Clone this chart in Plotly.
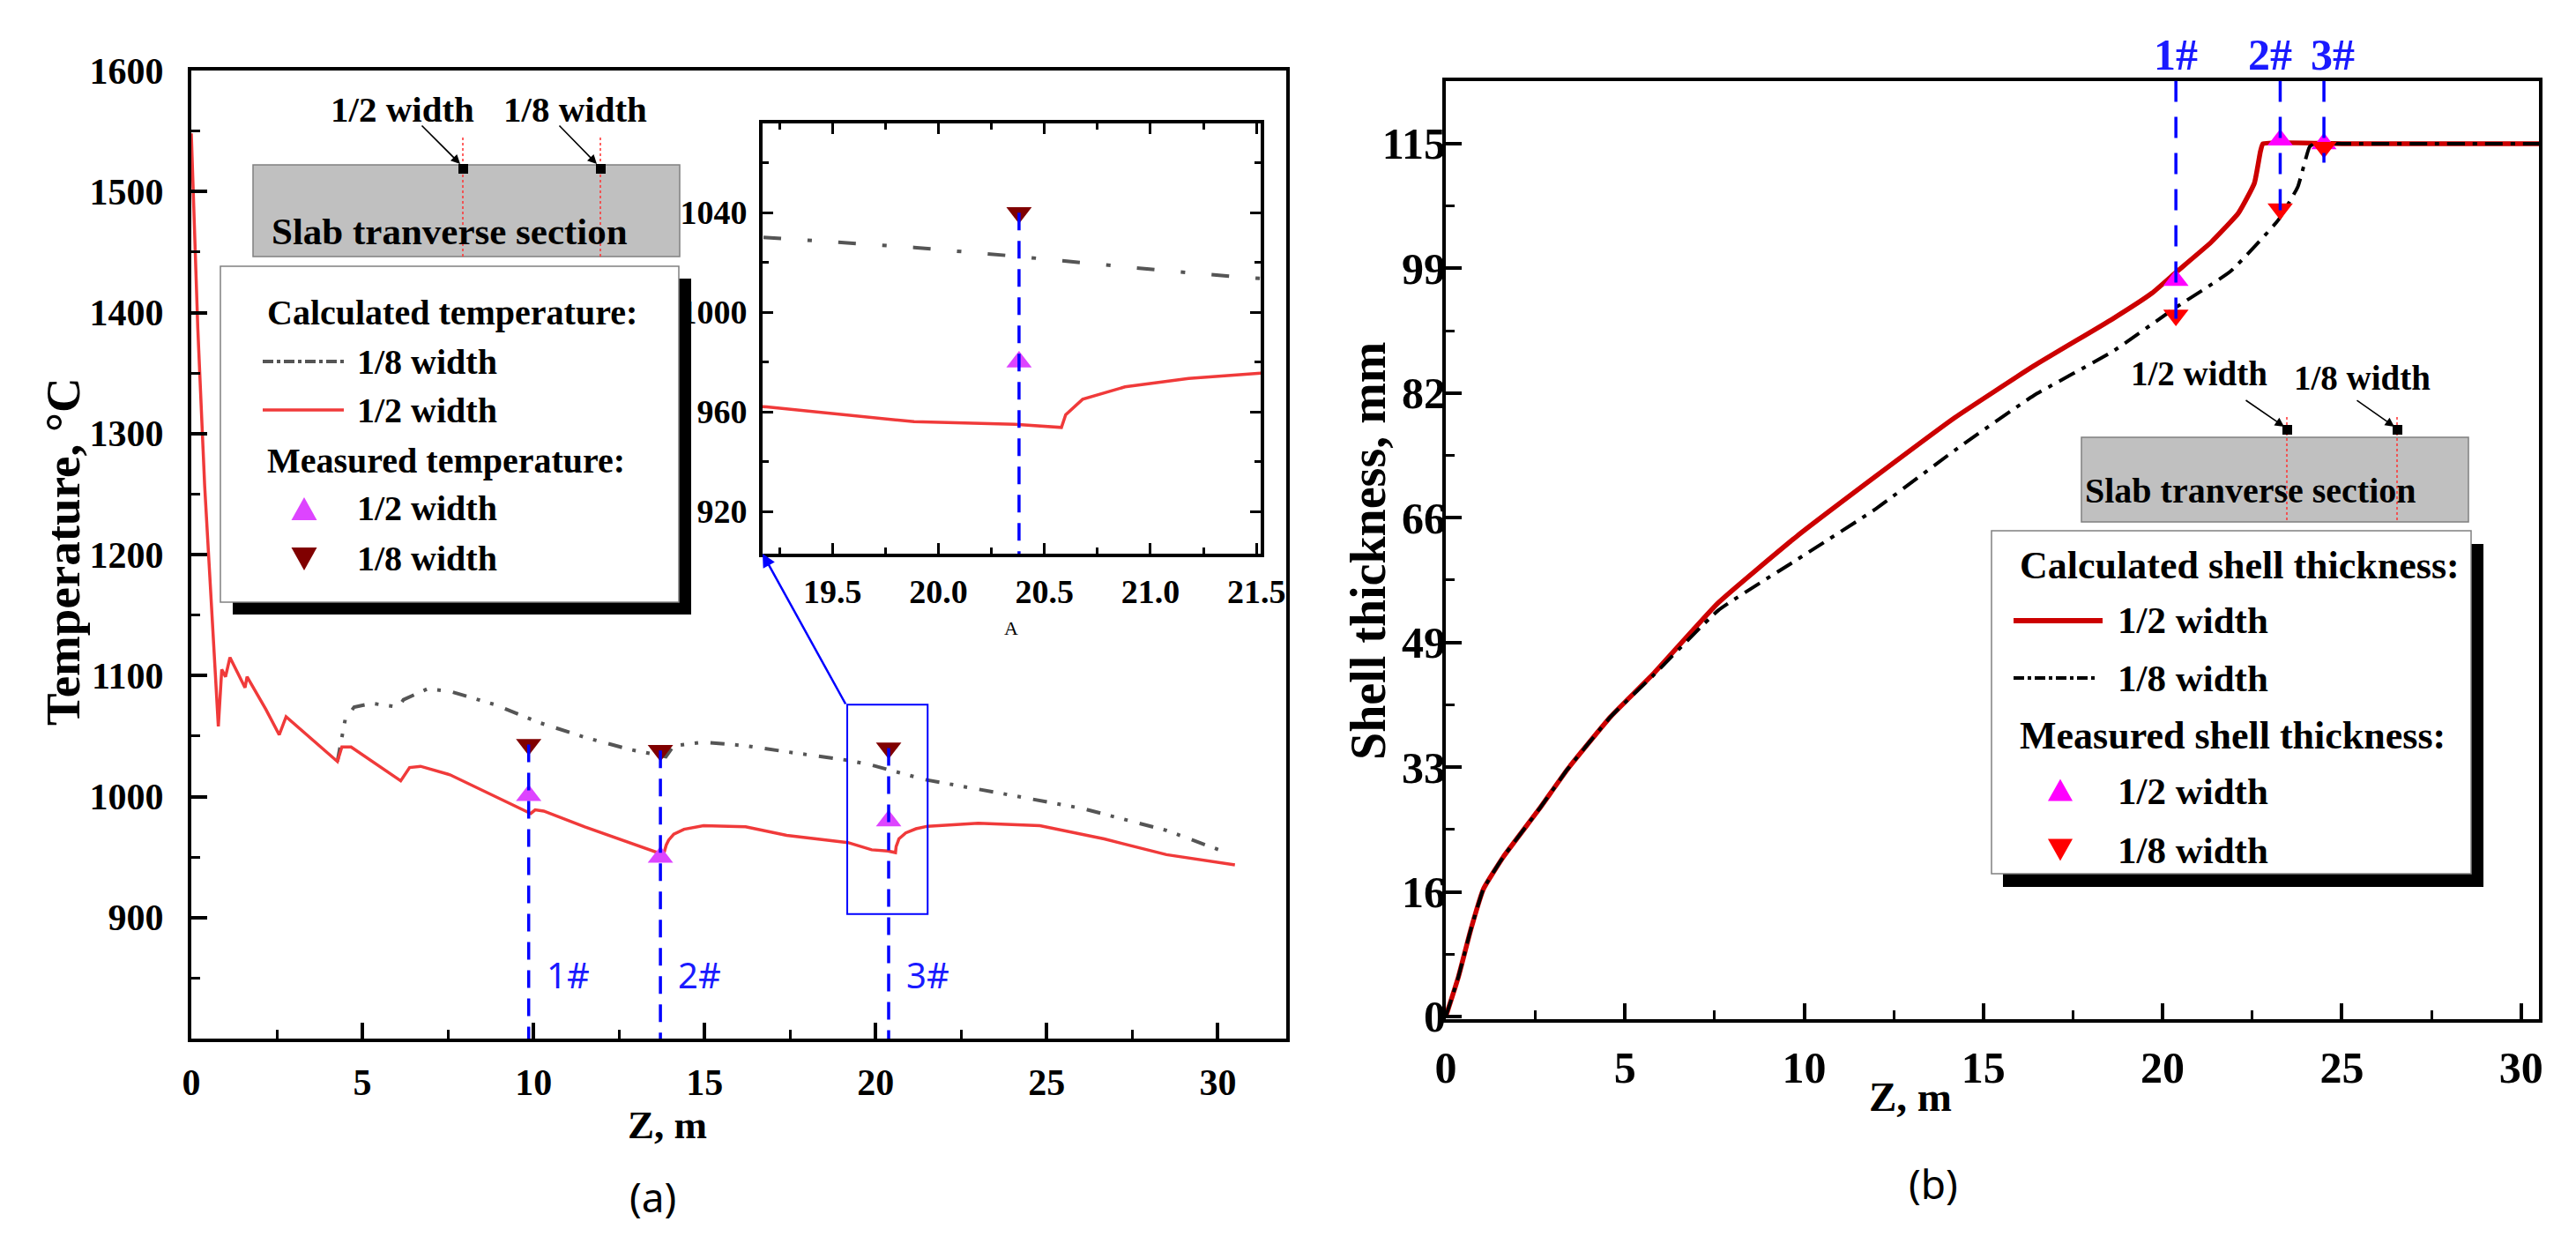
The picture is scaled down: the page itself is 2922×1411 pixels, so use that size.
import plotly.graph_objects as go

W, H = 2922, 1411
SERIF = "Liberation Serif"
SANS = "Noto Sans"

# ---- (a) calculated temperature, Z in m, T in degC ----
z_half = [0.0, 0.19, 0.39, 0.59, 0.79, 0.89, 1.0, 1.13, 1.57, 1.63, 2.18, 2.57, 2.77,
          4.27, 4.4, 4.67, 6.12, 6.38, 6.7, 7.56, 9.92, 10.05, 10.3, 11.5, 13.8, 13.88,
          13.95, 14.1, 14.4, 14.97, 16.2, 17.4, 19.19, 19.885, 20.36, 20.58, 20.6, 20.68,
          20.88, 21.18, 21.52, 23.0, 24.8, 26.68, 28.5, 30.5]
temp_half = [1548, 1387, 1257, 1155, 1058, 1105, 1099, 1115, 1090, 1099, 1072, 1051, 1066,
             1029, 1041, 1041, 1013, 1024, 1025, 1018, 986, 989, 988, 975, 952, 960,
             964, 969, 973, 976, 975, 968, 962, 956, 955, 953.7, 958.8, 965, 970, 973.4,
             975.5, 978, 976, 965, 952, 943.5]
z_eighth = [4.27, 4.33, 4.5, 4.76, 5.27, 6.06, 6.2, 6.9, 7.56, 8.87, 10.18, 11.5, 12.8,
            13.87, 14.1, 14.97, 16.2, 17.4, 19.19, 19.885, 20.36, 20.58, 21.08, 21.44,
            23.6, 26.07, 28.5, 30.13]
temp_eighth = [1029, 1039, 1064, 1074, 1077, 1074, 1080, 1089, 1087, 1076, 1061, 1049, 1039,
               1033, 1042, 1045, 1042, 1037, 1030, 1026, 1022.5, 1020.6, 1016.6, 1014,
               1003, 990, 972, 955]

# ---- (a) measured temperature at 1#, 2#, 3# ----
z_meas_a = [9.86, 13.71, 20.38]
temp_meas_half = [1001, 950, 980]
temp_meas_eighth = [1043, 1038, 1040]
pos_labels = ["1#", "2#", "3#"]

# ---- (b) shell thickness, mm ----
z_shell_half = [0, 0.35, 0.7, 1.05, 1.6, 2.6, 3.4, 4.6, 5.8, 7.6, 9.8, 12.0, 14.2, 16.4,
                18.6, 19.7, 20.36, 21.35, 22.12, 22.56, 22.73, 22.8, 25.0, 27.5, 30.5]
shell_half = [0, 5.2, 11.5, 16.8, 21.0, 27.3, 32.6, 39.5, 45.2, 54.5, 63.3, 71.2, 78.9, 85.7,
              91.9, 95.3, 98.0, 102.0, 105.9, 109.8, 114.0, 115.0, 115.0, 115.0, 115.0]
z_shell_eighth = [0, 0.35, 0.7, 1.05, 1.6, 2.6, 3.4, 4.6, 5.8, 7.6, 9.8, 12.0, 14.2, 16.4,
                  18.6, 20.36, 21.9, 23.22, 23.77, 24.1, 24.25, 25.0, 27.5, 30.5]
shell_eighth = [0, 5.2, 11.5, 16.8, 21.0, 27.3, 32.6, 39.5, 45.0, 53.5, 60.2, 66.9, 74.6, 81.8,
                87.6, 93.4, 98.2, 104.9, 109.3, 114.6, 115.0, 115.0, 115.0, 115.0]
z_meas_b = [20.37, 23.28, 24.5]
shell_meas_half = [97.0, 115.5, 115.0]
shell_meas_eighth = [92.4, 106.4, 114.5]

shell_tickvals = [0, 16.43, 32.86, 49.29, 65.71, 82.14, 98.57, 115]
shell_ticktext = ["0", "16", "33", "49", "66", "82", "99", "115"]
temp_tickvals = [900, 1000, 1100, 1200, 1300, 1400, 1500, 1600]
inset_xticks = [19.5, 20.0, 20.5, 21.0, 21.5]
inset_yticks = [920, 960, 1000, 1040]

RED_A = "#f03a3a"
GRAY_A = "#555555"
MAG_A = "#dd44ff"
DARKRED = "#800000"
RED_B = "#cc0000"
MAG_B = "#ff00ff"
BLUE = "#0000ff"

GRAY_DASH = "16px,12px,4px,12px,4px,14px"
GRAY_DASH_INSET = "20px,30px,5px,30px"
BLACK_DASH = "20px,9px,5px,9px"


def px(x):
    return x / W


def py(y):
    return 1 - y / H


fig = go.Figure()

# left main plot
fig.add_trace(go.Scatter(x=z_eighth, y=temp_eighth, mode="lines",
                         line=dict(color=GRAY_A, width=4, dash=GRAY_DASH),
                         xaxis="x", yaxis="y"))
fig.add_trace(go.Scatter(x=z_half, y=temp_half, mode="lines",
                         line=dict(color=RED_A, width=3.5), xaxis="x", yaxis="y"))
fig.add_trace(go.Scatter(x=z_meas_a, y=temp_meas_half, mode="markers",
                         marker=dict(symbol="triangle-up", size=25, color=MAG_A),
                         xaxis="x", yaxis="y"))
fig.add_trace(go.Scatter(x=z_meas_a, y=temp_meas_eighth, mode="markers",
                         marker=dict(symbol="triangle-down", size=25, color=DARKRED),
                         xaxis="x", yaxis="y"))

# inset (zoom of 3#)
fig.add_trace(go.Scatter(x=z_eighth, y=temp_eighth, mode="lines",
                         line=dict(color=GRAY_A, width=4, dash=GRAY_DASH_INSET),
                         xaxis="x3", yaxis="y3"))
fig.add_trace(go.Scatter(x=z_half, y=temp_half, mode="lines",
                         line=dict(color=RED_A, width=3.5), xaxis="x3", yaxis="y3"))
fig.add_trace(go.Scatter(x=z_meas_a[2:], y=temp_meas_half[2:], mode="markers",
                         marker=dict(symbol="triangle-up", size=25, color=MAG_A),
                         xaxis="x3", yaxis="y3"))
fig.add_trace(go.Scatter(x=z_meas_a[2:], y=temp_meas_eighth[2:], mode="markers",
                         marker=dict(symbol="triangle-down", size=25, color=DARKRED),
                         xaxis="x3", yaxis="y3"))

# right plot
fig.add_trace(go.Scatter(x=z_shell_half, y=shell_half, mode="lines",
                         line=dict(color=RED_B, width=5.5, shape="spline", smoothing=0.4),
                         xaxis="x2", yaxis="y2"))
fig.add_trace(go.Scatter(x=z_shell_eighth, y=shell_eighth, mode="lines",
                         line=dict(color="black", width=4, dash=BLACK_DASH,
                                   shape="spline", smoothing=0.4),
                         xaxis="x2", yaxis="y2"))
fig.add_trace(go.Scatter(x=z_meas_b, y=shell_meas_half, mode="markers",
                         marker=dict(symbol="triangle-up", size=25, color=MAG_B),
                         xaxis="x2", yaxis="y2"))
fig.add_trace(go.Scatter(x=z_meas_b, y=shell_meas_eighth, mode="markers",
                         marker=dict(symbol="triangle-down", size=25, color="#ff0000"),
                         xaxis="x2", yaxis="y2"))


def axis_style(size, standoff):
    return dict(showline=True, linecolor="black", linewidth=4, mirror=True,
                ticks="inside", ticklen=18, tickwidth=4, tickcolor="black",
                showgrid=False, zeroline=False, ticklabelstandoff=standoff,
                automargin=False,
                tickfont=dict(family=SERIF, size=size, color="black", weight="bold"))


shapes = []
annotations = []


def rect(x0, y0, x1, y1, fill, line_color=None, lw=0):
    shapes.append(dict(type="rect", xref="paper", yref="paper",
                       x0=px(x0), x1=px(x1), y0=py(y1), y1=py(y0),
                       fillcolor=fill, line=dict(color=line_color or fill, width=lw),
                       layer="above"))


def hline(x0, x1, y, color, width, dash="solid"):
    shapes.append(dict(type="line", xref="paper", yref="paper",
                       x0=px(x0), x1=px(x1), y0=py(y), y1=py(y),
                       line=dict(color=color, width=width, dash=dash)))


def vline(x, y0, y1, color, width, dash="solid"):
    shapes.append(dict(type="line", xref="paper", yref="paper",
                       x0=px(x), x1=px(x), y0=py(y0), y1=py(y1),
                       line=dict(color=color, width=width, dash=dash)))


def tri(cx, cy, s, up, color):
    h = s * 0.9
    if up:
        pts = [(cx - s / 2, cy + h / 2), (cx + s / 2, cy + h / 2), (cx, cy - h / 2)]
    else:
        pts = [(cx - s / 2, cy - h / 2), (cx + s / 2, cy - h / 2), (cx, cy + h / 2)]
    path = "M " + " L ".join(f"{px(a)},{py(b)}" for a, b in pts) + " Z"
    shapes.append(dict(type="path", xref="paper", yref="paper", path=path,
                       fillcolor=color, line=dict(width=0)))


def text(x, y, s, size, color="black", bold=True, family=SERIF, xanchor="center",
         angle=0):
    annotations.append(dict(x=px(x), y=py(y), xref="paper", yref="paper", text=s,
                            showarrow=False, xanchor=xanchor, yanchor="middle",
                            textangle=angle,
                            font=dict(family=family, size=size, color=color,
                                      weight="bold" if bold else "normal")))


def arrow(hx, hy, tx, ty):
    annotations.append(dict(x=px(hx), y=py(hy), xref="paper", yref="paper", text="",
                            showarrow=True, ax=tx - hx, ay=ty - hy, arrowhead=2,
                            arrowsize=1.3, arrowwidth=1.6, arrowcolor="black"))


# slab section sketch (a)
rect(287, 187, 771, 291, "#c0c0c0", "#808080", 1.5)
vline(525, 156, 291, "#ff3030", 1.5, "dot")
vline(681, 156, 291, "#ff3030", 1.5, "dot")
rect(520, 186, 531, 197, "black")
rect(676, 186, 687, 197, "black")
arrow(522, 186, 477, 141)
arrow(677, 186, 633, 141)
text(456, 124, "1/2 width", 41)
text(652, 124, "1/8 width", 41)
text(510, 263, "Slab tranverse section", 43)

# legend (a)
rect(264, 316, 784, 697, "black")
rect(250, 302, 770, 683, "white", "#808080", 1.5)
text(301, 355, "Calculated temperature:", 40, xanchor="left")
hline(298, 390, 410, GRAY_A, 4, "dashdot")
text(403, 410, "1/8 width", 40, xanchor="left")
hline(298, 390, 465, RED_A, 3.5)
text(403, 465, "1/2 width", 40, xanchor="left")
text(301, 522, "Measured temperature:", 40, xanchor="left")
tri(345, 577, 29, True, MAG_A)
text(403, 577, "1/2 width", 40, xanchor="left")
tri(345, 634, 29, False, DARKRED)
text(403, 634, "1/8 width", 40, xanchor="left")

# slab section sketch (b)
rect(2361, 496, 2800, 592, "#c0c0c0", "#808080", 1.5)
vline(2594, 473, 590, "#ff3030", 1.5, "dot")
vline(2719, 473, 590, "#ff3030", 1.5, "dot")
rect(2589, 482, 2600, 493, "black")
rect(2714, 482, 2725, 493, "black")
arrow(2591, 484, 2546, 453)
arrow(2716, 484, 2672, 453)
text(2494, 424, "1/2 width", 39)
text(2679, 428, "1/8 width", 39)
text(2553, 556, "Slab tranverse section", 40)

# legend (b)
rect(2272, 617, 2817, 1006, "black")
rect(2259, 602, 2803, 991, "white", "#808080", 1.5)
text(2289, 641, "Calculated shell thickness:", 44, xanchor="left")
hline(2284, 2385, 704, RED_B, 6)
text(2400, 704, "1/2 width", 43, xanchor="left")
hline(2284, 2376, 769, "black", 4, "dashdot")
text(2400, 769, "1/8 width", 43, xanchor="left")
text(2289, 834, "Measured shell thickness:", 44, xanchor="left")
tri(2337, 896, 28, True, MAG_B)
text(2400, 897, "1/2 width", 43, xanchor="left")
tri(2337, 964, 28, False, "#ff0000")
text(2400, 964, "1/8 width", 43, xanchor="left")

# measurement position lines (a)
for z, t, lab in zip(z_meas_a, temp_meas_eighth, pos_labels):
    shapes.append(dict(type="line", xref="x", yref="y", x0=z, x1=z, y0=t, y1=800,
                       line=dict(color=BLUE, width=3.5, dash="20px,12px")))
    annotations.append(dict(x=z, y=py(1105), xref="x", yref="paper", text=lab,
                            showarrow=False, xanchor="left", yanchor="middle", xshift=18,
                            font=dict(family=SANS, size=40, color="#1a1aff")))
shapes.append(dict(type="line", xref="x3", yref="y3", x0=z_meas_a[2], x1=z_meas_a[2],
                   y0=temp_meas_eighth[2], y1=903,
                   line=dict(color=BLUE, width=3.5, dash="20px,12px")))

# zoom box and connector
shapes.append(dict(type="rect", xref="x", yref="y", x0=19.17, x1=21.52, y0=903, y1=1076,
                   line=dict(color=BLUE, width=2)))
annotations.append(dict(x=19.17, y=903, xref="x3", yref="y3", text="", showarrow=True,
                        ax=95, ay=172, arrowhead=2, arrowsize=1.2, arrowwidth=2.5,
                        arrowcolor=BLUE))
text(1147, 712, "A", 22, bold=False)

# measurement position lines (b)
for z, s, lab, shift in zip(z_meas_b, shell_meas_eighth, pos_labels, [0, -11, 10]):
    shapes.append(dict(type="line", xref="x2", yref="y2", x0=z, x1=z, y0=123.3, y1=s - 2,
                       line=dict(color=BLUE, width=3.5, dash="24px,17px")))
    annotations.append(dict(x=z, y=py(62), xref="x2", yref="paper", text=lab,
                            showarrow=False, xanchor="center", yanchor="middle",
                            xshift=shift,
                            font=dict(family=SERIF, size=50, color="#1a1aff",
                                      weight="bold")))

# axis titles and panel captions
text(71, 626, "Temperature, °C", 55, angle=-90)
text(757, 1276, "Z, m", 45)
text(1552, 624, "Shell thickness, mm", 56, angle=-90)
text(2167, 1244, "Z, m", 47)
text(740, 1357, "(a)", 46, bold=False, family=SANS)
text(2193, 1342, "(b)", 46, bold=False, family=SANS)

xa = axis_style(42, 10)
xa.update(domain=[px(217), px(1459)], anchor="y", range=[0, 32], tickmode="linear",
          tick0=0, dtick=5,
          minor=dict(ticks="inside", ticklen=10, tickwidth=3, tickcolor="black",
                     tick0=0, dtick=2.5))
ya = axis_style(42, 19)
ya.update(domain=[py(1178), py(80)], anchor="x", range=[800, 1600], tickmode="array",
          tickvals=temp_tickvals,
          minor=dict(ticks="inside", ticklen=10, tickwidth=3, tickcolor="black",
                     tick0=800, dtick=50))
xa2 = axis_style(50, 8)
xa2.update(domain=[px(1640), px(2880)], anchor="y2", range=[0, 30.5], tickmode="linear",
           tick0=0, dtick=5,
           minor=dict(ticks="inside", ticklen=10, tickwidth=3, tickcolor="black",
                      tick0=0, dtick=2.5))
ya2 = axis_style(50, -14)
ya2.update(domain=[py(1156), py(91.5)], anchor="x2", range=[-0.35, 123.3],
           tickmode="array", tickvals=shell_tickvals, ticktext=shell_ticktext,
           minor=dict(ticks="inside", ticklen=10, tickwidth=3, tickcolor="black",
                      tick0=0, dtick=115 / 14))
xa3 = axis_style(38, 6)
xa3.update(domain=[px(865), px(1430)], anchor="y3", range=[19.17, 21.52],
           tickmode="array", tickvals=inset_xticks, mirror="allticks", ticklen=12,
           tickwidth=3, ticktext=[f"{v:.1f}" for v in inset_xticks],
           minor=dict(ticks="inside", ticklen=7, tickwidth=2.5, tickcolor="black",
                      tick0=19.25, dtick=0.25))
ya3 = axis_style(38, 6)
ya3.update(domain=[py(628), py(139.5)], anchor="x3", range=[903, 1076],
           tickmode="array", tickvals=inset_yticks, mirror="allticks", ticklen=12,
           tickwidth=3,
           minor=dict(ticks="inside", ticklen=7, tickwidth=2.5, tickcolor="black",
                      tick0=900, dtick=20))

fig.update_layout(
    width=W, height=H, autosize=False,
    margin=dict(l=0, r=0, t=0, b=0, pad=0, autoexpand=False),
    paper_bgcolor="white", plot_bgcolor="white",
    showlegend=False,
    xaxis=xa, yaxis=ya, xaxis2=xa2, yaxis2=ya2, xaxis3=xa3, yaxis3=ya3,
    shapes=shapes, annotations=annotations,
)

fig.write_html("out.html", config={"displayModeBar": False},
               post_script="document.body.style.margin='0';")
